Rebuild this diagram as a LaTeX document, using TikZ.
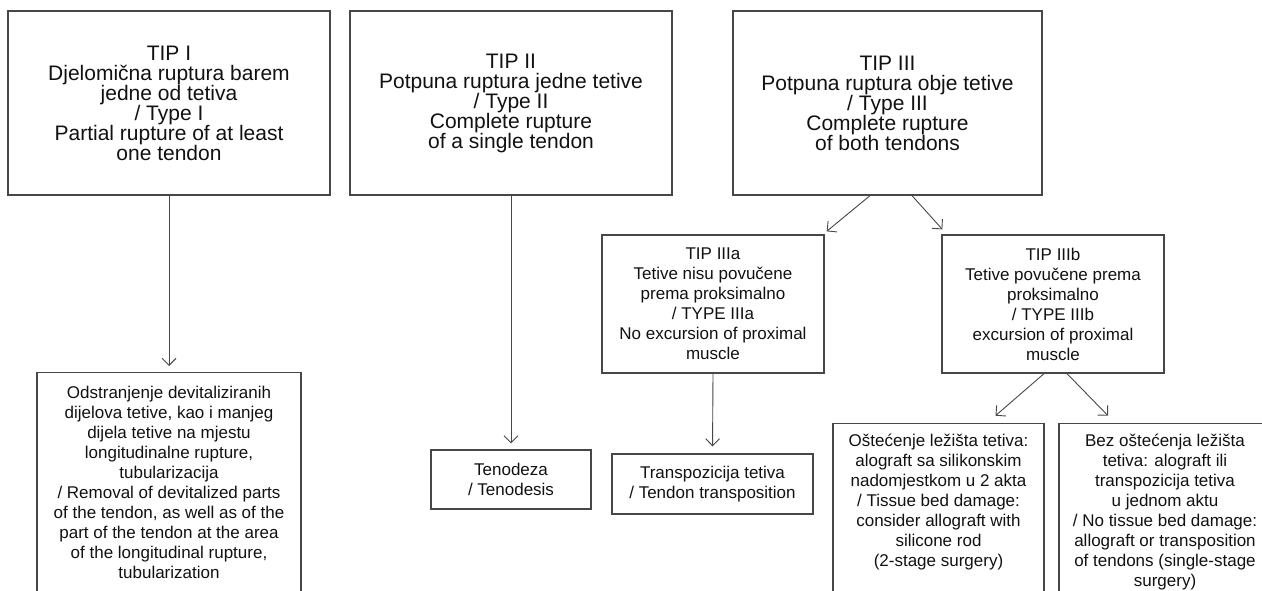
\documentclass[tikz,border=0pt]{standalone}
\usepackage{fontspec}
\setmainfont{Liberation Sans}
\usepackage{tikz}
\usetikzlibrary{arrows.meta}
\definecolor{linegray}{HTML}{474747}
\definecolor{textgray}{HTML}{111111}

\begin{document}
\begin{tikzpicture}[x=1pt,y=1pt,->,>={Straight Barb[length=7pt,width=14pt]},
				color=linegray,line width=0.9pt,
				type box/.style={rectangle,draw=linegray,line width=1.3pt,text=textgray,align=center,
					inner sep=0pt,font=\fontsize{21}{20}\selectfont},
				sub box/.style={type box,font=\fontsize{17}{20}\selectfont},
				cut box/.style={sub box,anchor=north,inner xsep=0pt}]

				\useasboundingbox (0,0) rectangle (1262,590);
				\clip (0,0) rectangle (1262,590);

				\node[type box,minimum width=322pt,minimum height=184pt] (1) at (169,487)
					{TIP I\\Djelomična ruptura barem\\jedne od tetiva\\/ Type I\\Partial rupture of at least\\one tendon};
				\node[type box,minimum width=322pt,minimum height=184pt] (2) at (511,487)
					{TIP II\\Potpuna ruptura jedne tetive\\/ Type II\\Complete rupture\\of a single tendon};
				\node[type box,minimum width=309pt,minimum height=184pt] (3) at (887.5,487)
					{TIP III\\Potpuna ruptura obje tetive\\/ Type III\\Complete rupture\\of both tendons};

				\node[sub box,minimum width=222pt,minimum height=138pt] (3a) at (713,286)
					{TIP IIIa\\Tetive nisu povučene\\prema proksimalno\\/ TYPE IIIa\\No excursion of proximal\\muscle};
				\node[sub box,minimum width=222pt,minimum height=138pt] (3b) at (1053,286)
					{TIP IIIb\\Tetive povučene prema\\proksimalno\\/ TYPE IIIb\\excursion of proximal\\muscle};

				\node[sub box,minimum width=160pt,minimum height=59pt] (2r) at (511,110.5)
					{Tenodeza\\/ Tenodesis};
				\node[sub box,minimum width=201pt,minimum height=60pt] (3ar) at (712.5,106)
					{Transpozicija tetiva\\/ Tendon transposition};

				\node[cut box,inner ysep=13pt] (1r) at (169,218)
					{\parbox[t][240pt][t]{264pt}{\centering\rule{0pt}{13pt}Odstranjenje devitaliziranih\\dijelova tetive, kao i manjeg\\dijela tetive na mjestu\\longitudinalne rupture,\\tubularizacija\\/ Removal of devitalized parts\\of the tendon, as well as of the\\part of the tendon at the area\\of the longitudinal rupture,\\tubularization}};
				\node[cut box,inner ysep=10.3pt] (3b1) at (938.5,167.3)
					{\parbox[t][240pt][t]{211pt}{\centering\rule{0pt}{13pt}Oštećenje ležišta tetiva:\\alograft sa silikonskim\\nadomjestkom u 2 akta\\/ Tissue bed damage:\\consider allograft with\\silicone rod\\(2-stage surgery)}};
				\node[cut box,inner ysep=10.3pt] (3b2) at (1165,167.3)
					{\parbox[t][240pt][t]{212pt}{\centering\rule{0pt}{13pt}Bez oštećenja ležišta\\tetiva: alograft ili\\transpozicija tetiva\\u jednom aktu\\/ No tissue bed damage:\\allograft or transposition\\of tendons (single-stage\\surgery)}};

				\path
				(1.south) edge [shorten >=6pt] (1r.north)
				(2.south) edge [shorten >=6pt] (2r.north)
				([xshift=-17.5pt]3.south) edge ([xshift=2pt,yshift=3pt]3a.north east)
				([xshift=24.5pt]3.south) edge ([xshift=1pt,yshift=5pt]3b.north west)
				(3a.south) edge [shorten >=7pt] (3ar.north)
				([xshift=-9pt]3b.south) edge ([xshift=57pt,yshift=7pt]3b1.north)
				([xshift=14pt]3b.south) edge ([xshift=-57pt,yshift=7pt]3b2.north);

			\end{tikzpicture}
\end{document}
